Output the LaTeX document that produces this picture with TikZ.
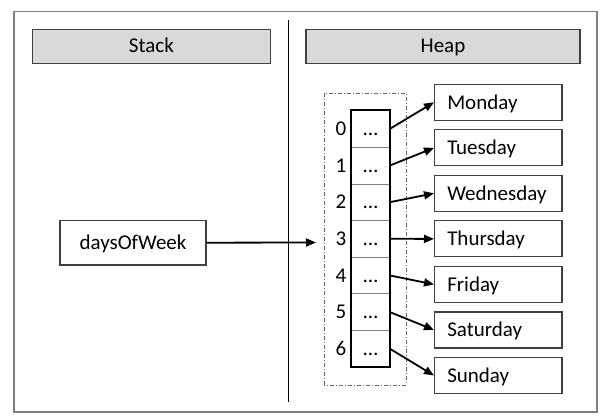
\documentclass[tikz,border=0pt]{standalone}
\usepackage{fontspec}
\setmainfont{Carlito}
\usetikzlibrary{arrows.meta}
\definecolor{hdrfill}{HTML}{D9D9D9}
\definecolor{boxline}{HTML}{404040}
\definecolor{frameline}{HTML}{808080}
\definecolor{cellline}{HTML}{808080}
\tikzset{
  every node/.style={font=\fontsize{21}{24}\selectfont, text=black, text height=13.5pt, text depth=0pt},
  hdr/.style={draw=boxline, line width=1.1pt, fill=hdrfill, minimum height=34pt, inner sep=0pt},
  daybox/.style={draw=boxline, line width=1.1pt, anchor=west, minimum height=36pt,
     text width=102pt, align=left, inner xsep=12.7pt, inner ysep=0pt},
  varbox/.style={draw=boxline, line width=1.1pt, minimum width=146pt, minimum height=44.5pt, inner sep=0pt},
  cellbox/.style={draw=cellline, line width=0.8pt, minimum width=37.5pt, minimum height=36.6pt, inner sep=0pt},
  idx/.style={inner sep=0pt},
  ptr/.style={line width=1.8pt, -{Triangle[length=10pt,width=8pt]}},
}
\begin{document}
\begin{tikzpicture}[x=1pt,y=-1pt]
\useasboundingbox (0,0) rectangle (606,420);
% frame
\draw[frameline, line width=1.4pt] (14,11.5) rectangle (597,412);
\draw[black, line width=1.1pt] (288.3,20) -- (288.3,402);
% headers
\node[hdr, minimum width=237.5pt] (stack) at (151.4,46.2) {Stack};
\node[hdr, minimum width=274pt] (heap) at (443,46.2) {Heap};
% variable
\node[varbox] (dow) at (133,242.7) {daysOfWeek};
\coordinate (aend) at (316,242.5);
\draw[ptr] (dow.east) -- (aend);
% dash-dot enclosure
\draw[gray!80!black, line width=0.8pt, dash pattern=on 4pt off 2pt on 1pt off 2pt] (324.3,93.3) rectangle (406,385);
% array cells
\foreach \i in {0,...,6}{
  \node[cellbox] (c\i) at (370.5,{129+36.6*\i}) {…};
  \node[idx] (n\i) at (341,{129+36.6*\i}) {\i};
}
\draw[black, line width=1.8pt] (c0.north west) rectangle (c6.south east);
% day boxes
\foreach \d [count=\k from 0] in {Monday,Tuesday,Wednesday,Thursday,Friday,Saturday,Sunday}{
  \node[daybox] (d\k) at (434,{102.3+45.53*\k}) {\d};
}
\foreach \i in {0,...,6}{
  \draw[ptr] (c\i.east) -- (d\i.west);
}
\end{tikzpicture}
\end{document}
